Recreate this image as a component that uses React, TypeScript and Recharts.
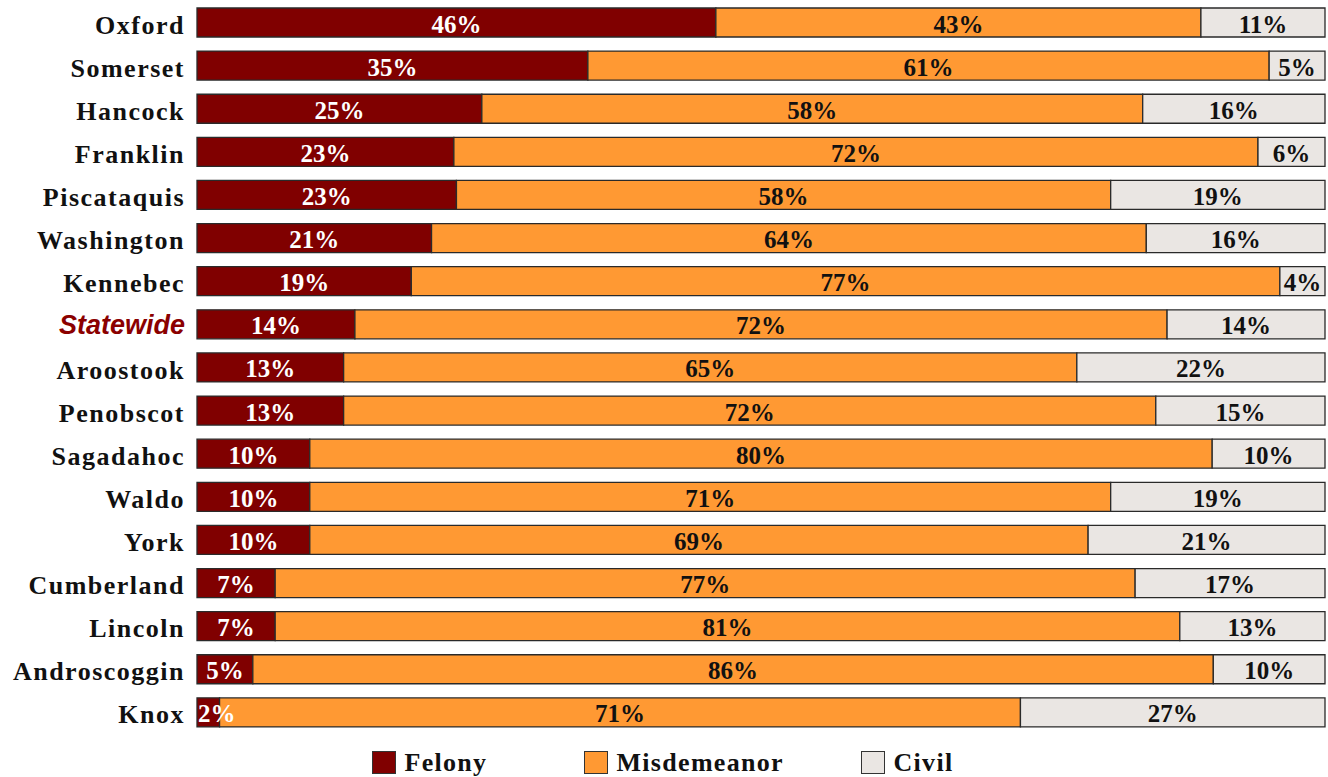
import React from "react";
import { BarChart, Bar, XAxis, YAxis, Legend, LabelList } from "recharts";

const counties = [
  "Oxford", "Somerset", "Hancock", "Franklin", "Piscataquis", "Washington", "Kennebec",
  "Statewide", "Aroostook", "Penobscot", "Sagadahoc", "Waldo", "York", "Cumberland",
  "Lincoln", "Androscoggin", "Knox",
];
const felony =       [46, 35, 25, 23, 23, 21, 19, 14, 13, 13, 10, 10, 10, 7, 7, 5, 2];
const misdemeanor =  [43, 61, 58, 72, 58, 64, 77, 72, 65, 72, 80, 71, 69, 77, 81, 86, 71];
const civil =        [11, 5, 16, 6, 19, 16, 4, 14, 22, 15, 10, 19, 21, 17, 13, 10, 27];

const SERIES = [
  { key: "felony", name: "Felony", fill: "#800000", text: "#FFFFFF", legendWidth: 212 },
  { key: "misdemeanor", name: "Misdemeanor", fill: "#FF9933", text: "#111111", legendWidth: 277 },
  { key: "civil", name: "Civil", fill: "#EAE6E3", text: "#111111", legendWidth: 93 },
];

const data = counties.map((county, i) => ({
  county,
  felony: felony[i],
  misdemeanor: misdemeanor[i],
  civil: civil[i],
}));

const SERIF = "'Liberation Serif', 'Times New Roman', serif";
const VALUE_SIZE = 25;

function CountyTick(props: any) {
  const { x, y, payload } = props;
  const isState = payload.value === "Statewide";
  return (
    <text
      x={x}
      y={y}
      dy={isState ? 10 : 11}
      textAnchor="end"
      fill={isState ? "#8B0000" : "#111111"}
      style={{
        fontFamily: isState ? "'Liberation Sans', Arial, sans-serif" : SERIF,
        fontSize: isState ? 27 : 26,
        fontWeight: 700,
        fontStyle: isState ? "italic" : "normal",
        letterSpacing: isState ? 0 : 1.5,
      }}
    >
      {payload.value}
    </text>
  );
}

function makeLabel(color: string) {
  return (props: any) => {
    const { x, y, width, height, value } = props;
    const txt = `${value}%`;
    const est = (String(value).length * 0.5 + 1) * VALUE_SIZE;
    const fits = est + 4 <= width;
    return (
      <text
        x={fits ? x + width / 2 : x + 1}
        y={y + height / 2}
        dy={10}
        textAnchor={fits ? "middle" : "start"}
        fill={color}
        style={{ fontFamily: SERIF, fontSize: VALUE_SIZE, fontWeight: 700 }}
      >
        {txt}
      </text>
    );
  };
}

function LegendBox() {
  return (
    <div style={{ height: 43, paddingTop: 17, boxSizing: "border-box", display: "flex", justifyContent: "center" }}>
      {SERIES.map((s) => (
        <div key={s.key} style={{ width: s.legendWidth, display: "flex", alignItems: "center", height: 23 }}>
          <span style={{
            width: 22, height: 21, background: s.fill, border: "1px solid #333",
            display: "inline-block", marginRight: 9, flexShrink: 0,
          }} />
          <span style={{ fontFamily: SERIF, fontSize: 26, fontWeight: 700, color: "#111", letterSpacing: 1.3, whiteSpace: "nowrap" }}>
            {s.name}
          </span>
        </div>
      ))}
    </div>
  );
}

export default function App() {
  return (
    <div style={{ width: 1328, height: 777, background: "#FFFFFF" }}>
      <style>{"body{margin:0;background:#fff}"}</style>
      <BarChart
        width={1328}
        height={777}
        data={data}
        layout="vertical"
        stackOffset="expand"
        barSize={29}
        margin={{ top: 1, right: 3, bottom: 0, left: 0 }}
      >
        <XAxis type="number" hide domain={[0, 1]} />
        <YAxis
          type="category"
          dataKey="county"
          width={197}
          axisLine={false}
          tickLine={false}
          tickSize={0}
          tickMargin={12}
          interval={0}
          tick={<CountyTick />}
        />
        <Legend verticalAlign="bottom" content={<LegendBox />} />
        {SERIES.map((s) => (
          <Bar
            key={s.key}
            dataKey={s.key}
            name={s.name}
            stackId="a"
            fill={s.fill}
            stroke="#2a2a2a"
            strokeWidth={1.3}
            isAnimationActive={false}
          >
            <LabelList dataKey={s.key} content={makeLabel(s.text)} />
          </Bar>
        ))}
      </BarChart>
    </div>
  );
}
